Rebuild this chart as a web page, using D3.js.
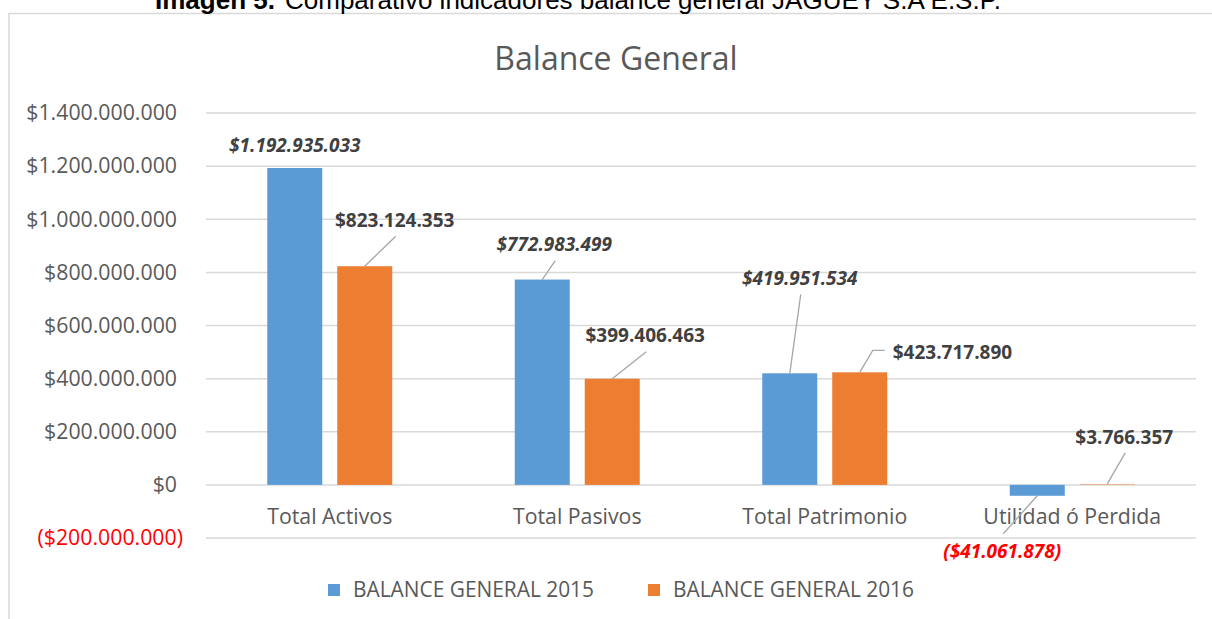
<!DOCTYPE html>
<html>
<head>
<meta charset="utf-8">
<script src="https://cdn.jsdelivr.net/npm/d3@7"></script>
<style>
  body { margin: 0; background: #fff; }
  svg { display: block; }
</style>
</head>
<body>
<svg id="chart" width="1212" height="619"></svg>
<script>
// chart data
var categories = ['Total Activos', 'Total Pasivos', 'Total Patrimonio', 'Utilidad ó Perdida'];
var seriesNames = ['BALANCE GENERAL 2015', 'BALANCE GENERAL 2016'];
var values2015 = [1192935033, 772983499, 419951534, -41061878];
var values2016 = [823124353, 399406463, 423717890, 3766357];
var tickValues = [-200000000, 0, 200000000, 400000000, 600000000, 800000000,
                  1000000000, 1200000000, 1400000000];
var colors = ['#5B9BD5', '#ED7D31'];

// where each data label sits, relative to the top of its bar (px)
var labelShift2015 = [[0, -23, false], [12, -35, true], [10, -95, true], [-35, 56, true]];
var labelShift2016 = [[30, -46, true], [33, -43, true], [33, -20, 'elbow'], [17, -47, true]];

var W = 1212, H = 619;
var plotL = 206, plotR = 1196, plotT = 113, plotB = 538;
var font = '"Open Sans", sans-serif';

var loc = d3.formatLocale({decimal: ',', thousands: '.', grouping: [3], currency: ['$', '']});
var fmt = loc.format('$,.0f');
function money(v) {
  return v < 0 ? '(' + fmt(-v) + ')' : fmt(v);
}

var svg = d3.select('#chart');

svg.append('rect')
  .attr('x', 9).attr('y', 13.5)
  .attr('width', 1230).attr('height', 700)
  .attr('fill', '#fff')
  .attr('stroke', '#d9d9d9')
  .attr('stroke-width', 1.5);

// caption above the chart box (cut by the top edge, as in the source)
svg.append('text')
  .attr('x', 155).attr('y', 9)
  .style('font-family', '"Liberation Sans", Arial, sans-serif')
  .style('font-size', '26px')
  .style('font-weight', 'bold')
  .attr('fill', '#000')
  .text('Imagen 5.');
svg.append('text')
  .attr('x', 285).attr('y', 9)
  .style('font-family', '"Liberation Sans", Arial, sans-serif')
  .style('font-size', '26px')
  .attr('fill', '#000')
  .text('Comparativo indicadores balance general JAGUEY S.A E.S.P.');

svg.append('text')
  .attr('x', 616).attr('y', 70)
  .attr('text-anchor', 'middle')
  .style('font-family', font)
  .style('font-size', '32px')
  .attr('fill', '#595959')
  .text('Balance General');

var y = d3.scaleLinear()
  .domain([-200000000, 1400000000])
  .range([plotB, plotT]);

var x0 = d3.scaleBand()
  .domain(categories)
  .range([plotL, plotR])
  .padding(0);

var bw = x0.bandwidth();
var pairW = bw * 0.505;
var x1 = d3.scaleBand()
  .domain([0, 1])
  .range([(bw - pairW) / 2, (bw + pairW) / 2])
  .paddingInner(0.214)
  .paddingOuter(0);

// gridlines
svg.append('g')
  .selectAll('line')
  .data(tickValues)
  .join('line')
  .attr('x1', plotL).attr('x2', plotR)
  .attr('y1', d => y(d)).attr('y2', d => y(d))
  .attr('stroke', '#d9d9d9')
  .attr('stroke-width', 1.5);

// y axis labels
var yAxis = svg.append('g')
  .attr('transform', 'translate(177,0)')
  .call(d3.axisLeft(y).tickValues(tickValues).tickSize(0).tickPadding(0).tickFormat(money));
yAxis.select('.domain').remove();
yAxis.selectAll('text')
  .style('font-family', font)
  .style('font-size', '21.3px')
  .attr('fill', d => d < 0 ? '#ff0000' : '#595959')
  .attr('x', d => d < 0 ? 6 : 0);

// bars
var series = [values2015, values2016];
var rows = [];
series.forEach(function (vals, s) {
  vals.forEach(function (v, i) {
    rows.push({s: s, cat: categories[i], i: i, v: v});
  });
});

svg.append('g')
  .selectAll('rect')
  .data(rows)
  .join('rect')
  .attr('x', d => x0(d.cat) + x1(d.s))
  .attr('width', x1.bandwidth())
  .attr('y', d => y(Math.max(0, d.v)))
  .attr('height', d => Math.max(Math.abs(y(d.v) - y(0)), 0.8))
  .attr('fill', d => colors[d.s])
  .attr('fill-opacity', d => Math.abs(y(d.v) - y(0)) < 2 ? 0.45 : 1);

// category labels
svg.append('g')
  .selectAll('text')
  .data(categories)
  .join('text')
  .attr('x', d => x0(d) + bw / 2)
  .attr('y', 517)
  .attr('dy', '0.35em')
  .attr('text-anchor', 'middle')
  .style('font-family', font)
  .style('font-size', '21.3px')
  .attr('fill', '#595959')
  .text(d => d);

// data labels with leader lines
var lab = svg.append('g');
rows.forEach(function (d) {
  var sh = (d.s === 0 ? labelShift2015 : labelShift2016)[d.i];
  var bx = x0(d.cat) + x1(d.s) + x1.bandwidth() / 2;
  var by = y(d.v);
  var lx = bx + sh[0], ly = by + sh[1];
  var t = lab.append('text')
    .attr('y', ly).attr('dy', '0.35em')
    .style('font-family', font)
    .style('font-size', '19px')
    .style('font-weight', 'bold')
    .style('font-style', d.s === 0 ? 'italic' : 'normal')
    .attr('fill', d.v < 0 ? '#ff0000' : '#404040')
    .text(money(d.v));
  if (sh[2] === 'elbow') {
    t.attr('x', lx).attr('text-anchor', 'start');
    lab.append('polyline')
      .attr('points', [[bx, by], [bx + 13, ly - 2], [lx - 8, ly - 2]].map(p => p.join(',')).join(' '))
      .attr('fill', 'none')
      .attr('stroke', '#a6a6a6')
      .attr('stroke-width', 1.3);
  } else {
    t.attr('x', lx).attr('text-anchor', 'middle');
    if (sh[2]) {
      var ey = sh[1] < 0 ? ly + 16 : ly - 18;
      lab.append('line')
        .attr('x1', bx).attr('y1', by)
        .attr('x2', lx + 1).attr('y2', ey)
        .attr('stroke', '#a6a6a6')
        .attr('stroke-width', 1.3);
    }
  }
});

// legend
var leg = svg.append('g').attr('transform', 'translate(328,590)');
var legX = [0, 320];
seriesNames.forEach(function (n, s) {
  leg.append('rect')
    .attr('x', legX[s]).attr('y', -6)
    .attr('width', 12).attr('height', 12)
    .attr('fill', colors[s]);
  leg.append('text')
    .attr('x', legX[s] + 25).attr('y', 0).attr('dy', '0.35em')
    .attr('textLength', 241)
    .attr('lengthAdjust', 'spacingAndGlyphs')
    .style('font-family', font)
    .style('font-size', '21.3px')
    .attr('fill', '#595959')
    .text(n);
});
</script>
</body>
</html>
